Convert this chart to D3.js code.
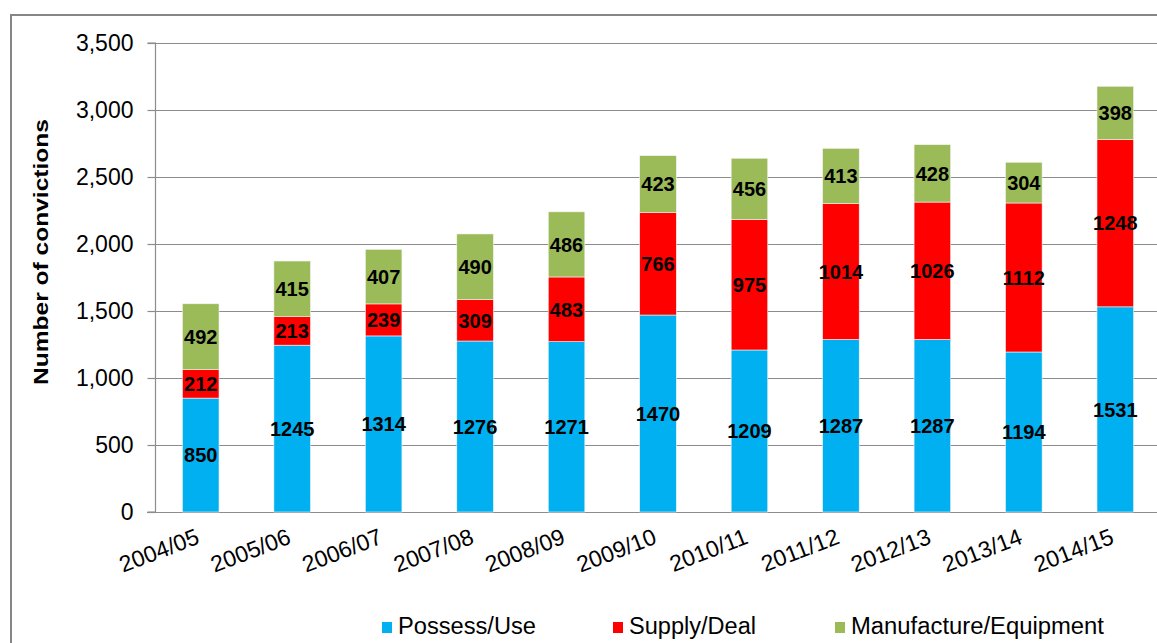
<!DOCTYPE html>
<html>
<head>
<meta charset="utf-8">
<script src="https://cdn.jsdelivr.net/npm/d3@7"></script>
<style>
  body { margin: 0; background: #fff; }
  svg { display: block; font-family: "Liberation Sans", Arial, sans-serif; }
</style>
</head>
<body>
<div id="chart"></div>
<script>
// Data
const years = ["2004/05", "2005/06", "2006/07", "2007/08", "2008/09", "2009/10",
               "2010/11", "2011/12", "2012/13", "2013/14", "2014/15"];
const possessUse = [850, 1245, 1314, 1276, 1271, 1470, 1209, 1287, 1287, 1194, 1531];
const supplyDeal = [212, 213, 239, 309, 483, 766, 975, 1014, 1026, 1112, 1248];
const manufactureEquipment = [492, 415, 407, 490, 486, 423, 456, 413, 428, 304, 398];
const seriesNames = ["Possess/Use", "Supply/Deal", "Manufacture/Equipment"];
const yTicks = [0, 500, 1000, 1500, 2000, 2500, 3000, 3500];

const W = 1157, H = 643;
const margin = { left: 155, right: -4, top: 43, bottom: 131 };
const colors = ["#00B0F0", "#FF0000", "#9BBB59"];

const rows = years.map((y, i) => ({
    year: y,
    "Possess/Use": possessUse[i],
    "Supply/Deal": supplyDeal[i],
    "Manufacture/Equipment": manufactureEquipment[i]
}));
const stacked = d3.stack().keys(seriesNames)(rows);

const svg = d3.select("#chart").append("svg")
    .attr("width", W)
    .attr("height", H);

// outer frame (runs off the right and bottom of the picture)
svg.append("path")
    .attr("d", `M11,${H + 5}V15H${W + 5}`)
    .attr("fill", "none")
    .attr("stroke", "#868686")
    .attr("stroke-width", 2);

const x = d3.scaleBand()
    .domain(years)
    .range([margin.left, W - margin.right])
    .paddingInner(0.6)
    .paddingOuter(0.3);

const y = d3.scaleLinear()
    .domain([0, 3500])
    .range([H - margin.bottom, margin.top]);

// gridlines
svg.append("g")
    .selectAll("line")
    .data(yTicks.filter(d => d > 0))
    .enter().append("line")
    .attr("x1", margin.left)
    .attr("x2", W - margin.right)
    .attr("y1", d => Math.round(y(d)) + 0.5)
    .attr("y2", d => Math.round(y(d)) + 0.5)
    .attr("stroke", "#8c8c8c")
    .attr("stroke-width", 1.2);

// y axis
const yAxis = svg.append("g")
    .attr("transform", `translate(${margin.left + 0.5},0)`)
    .call(d3.axisLeft(y).tickValues(yTicks).tickSize(8).tickPadding(14)
        .tickFormat(d3.format(",")));
yAxis.selectAll("path, line").attr("stroke", "#8c8c8c").attr("stroke-width", 1.2);
yAxis.select(".domain").attr("d", `M-8,${y(0)}H0V${y(3500)}H-8`);
yAxis.selectAll("text").attr("font-size", 23).attr("fill", "#000")
    .attr("font-family", "Liberation Sans, Arial, sans-serif");

// x axis line
svg.append("line")
    .attr("x1", margin.left - 8)
    .attr("x2", W - margin.right)
    .attr("y1", Math.round(y(0)) + 0.5)
    .attr("y2", Math.round(y(0)) + 0.5)
    .attr("stroke", "#8c8c8c")
    .attr("stroke-width", 1.2);

// bars
const layers = svg.append("g")
    .selectAll("g")
    .data(stacked)
    .enter().append("g")
    .attr("fill", (d, i) => colors[i]);

layers.selectAll("rect")
    .data(d => d)
    .enter().append("rect")
    .attr("x", d => x(d.data.year))
    .attr("width", x.bandwidth())
    .attr("y", d => y(d[1]))
    .attr("height", d => y(d[0]) - y(d[1]))
    .attr("stroke", "#f4f4f4")
    .attr("stroke-width", 0.6);

// value labels
layers.selectAll("text")
    .data(d => d)
    .enter().append("text")
    .attr("x", d => x(d.data.year) + x.bandwidth() / 2)
    .attr("y", d => (y(d[0]) + y(d[1])) / 2)
    .attr("dy", "0.36em")
    .attr("text-anchor", "middle")
    .attr("font-size", 20)
    .attr("font-weight", "bold")
    .attr("fill", "#000")
    .text(d => d[1] - d[0]);

// x tick labels (rotated)
svg.append("g")
    .selectAll("text")
    .data(years)
    .enter().append("text")
    .attr("transform", d => `translate(${x(d) + x.bandwidth() / 2},${y(0) + 31}) rotate(-21)`)
    .attr("text-anchor", "end")
    .attr("font-size", 23)
    .attr("fill", "#000")
    .text(d => d);

// y axis title
svg.append("text")
    .attr("transform", `translate(48,252) rotate(-90)`)
    .attr("text-anchor", "middle")
    .attr("font-size", 21)
    .attr("font-weight", "bold")
    .attr("textLength", 266)
    .attr("lengthAdjust", "spacingAndGlyphs")
    .text("Number of convictions");

// legend
const legendX = [382, 613, 835];
const legendW = [138, 127, 253];
const legend = svg.append("g")
    .selectAll("g")
    .data(seriesNames)
    .enter().append("g")
    .attr("transform", (d, i) => `translate(${legendX[i]},622)`);

legend.append("rect")
    .attr("width", 10)
    .attr("height", 11)
    .attr("fill", (d, i) => colors[i]);

legend.append("text")
    .attr("x", 16)
    .attr("y", 12)
    .attr("font-size", 23)
    .attr("fill", "#000")
    .attr("textLength", (d, i) => legendW[i])
    .attr("lengthAdjust", "spacingAndGlyphs")
    .text(d => d);
</script>
</body>
</html>
